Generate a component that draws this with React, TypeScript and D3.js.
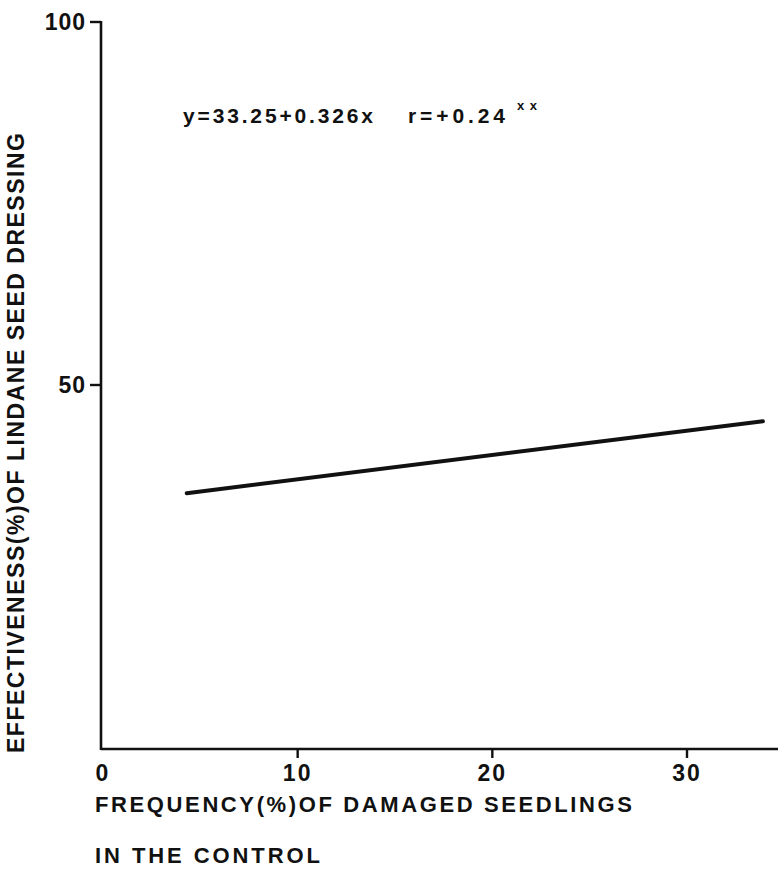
import { scaleLinear } from "d3";

const xTicks = [0, 10, 20, 30];
const yTicks = [50, 100];
// regression line drawn over the observed range
const lineX = [4.3, 33.9];
const lineY = [35.1, 45.0];
const equation = "y=33.25+0.326x";
const corr = "r=+0.24";
const corrMark = "xx";
const yTitle = "EFFECTIVENESS(%)OF LINDANE SEED DRESSING";
const xTitle1 = "FREQUENCY(%)OF DAMAGED SEEDLINGS";
const xTitle2 = "IN THE CONTROL";

export default function App() {
  const width = 778;
  const height = 875;
  const axisX = 101;
  const axisY = 749;
  const x = scaleLinear().domain([0, 30]).range([103, 687]);
  const y = scaleLinear().domain([0, 100]).range([748, 22]);
  const font = "'Liberation Sans', Arial, Helvetica, sans-serif";

  return (
    <svg
      width={width}
      height={height}
      viewBox={`0 0 ${width} ${height}`}
      style={{ position: "absolute", left: 0, top: 0, background: "#fff" }}
      fontFamily={font}
      fontWeight={700}
      fill="#111"
    >
      {/* axes */}
      <line x1={axisX} x2={axisX} y1={y(100) - 1} y2={axisY + 1} stroke="#111" strokeWidth={2.6} />
      <line x1={axisX} x2={width} y1={axisY} y2={axisY} stroke="#111" strokeWidth={2.6} />

      {yTicks.map((t) => (
        <g key={t}>
          <line x1={axisX - 11} x2={axisX} y1={y(t)} y2={y(t)} stroke="#111" strokeWidth={2.4} />
          <text x={86} y={y(t) + 8} textAnchor="end" fontSize={23} letterSpacing={1}>
            {t}
          </text>
        </g>
      ))}

      {xTicks.map((t) => (
        <g key={t}>
          {t > 0 ? (
            <line x1={x(t)} x2={x(t)} y1={axisY} y2={axisY + 9} stroke="#111" strokeWidth={2.4} />
          ) : null}
          <text x={x(t)} y={781} textAnchor="middle" fontSize={23} letterSpacing={2}>
            {t}
          </text>
        </g>
      ))}

      <line
        x1={x(lineX[0])}
        y1={y(lineY[0])}
        x2={x(lineX[1])}
        y2={y(lineY[1])}
        stroke="#111"
        strokeWidth={4}
        strokeLinecap="round"
      />

      <text x={183} y={123} fontSize={21} textLength={190} lengthAdjust="spacing">
        {equation}
      </text>
      <text x={408} y={123} fontSize={21} textLength={97} lengthAdjust="spacing">
        {corr}
      </text>
      <text x={517} y={110} fontSize={13} textLength={20} lengthAdjust="spacing">
        {corrMark}
      </text>

      <text
        transform="translate(24, 443) rotate(-90)"
        textAnchor="middle"
        fontSize={23}
        textLength={620}
        lengthAdjust="spacing"
      >
        {yTitle}
      </text>

      <text x={95} y={812} fontSize={22} textLength={537} lengthAdjust="spacing">
        {xTitle1}
      </text>
      <text x={95} y={863} fontSize={22} textLength={225} lengthAdjust="spacing">
        {xTitle2}
      </text>
    </svg>
  );
}
